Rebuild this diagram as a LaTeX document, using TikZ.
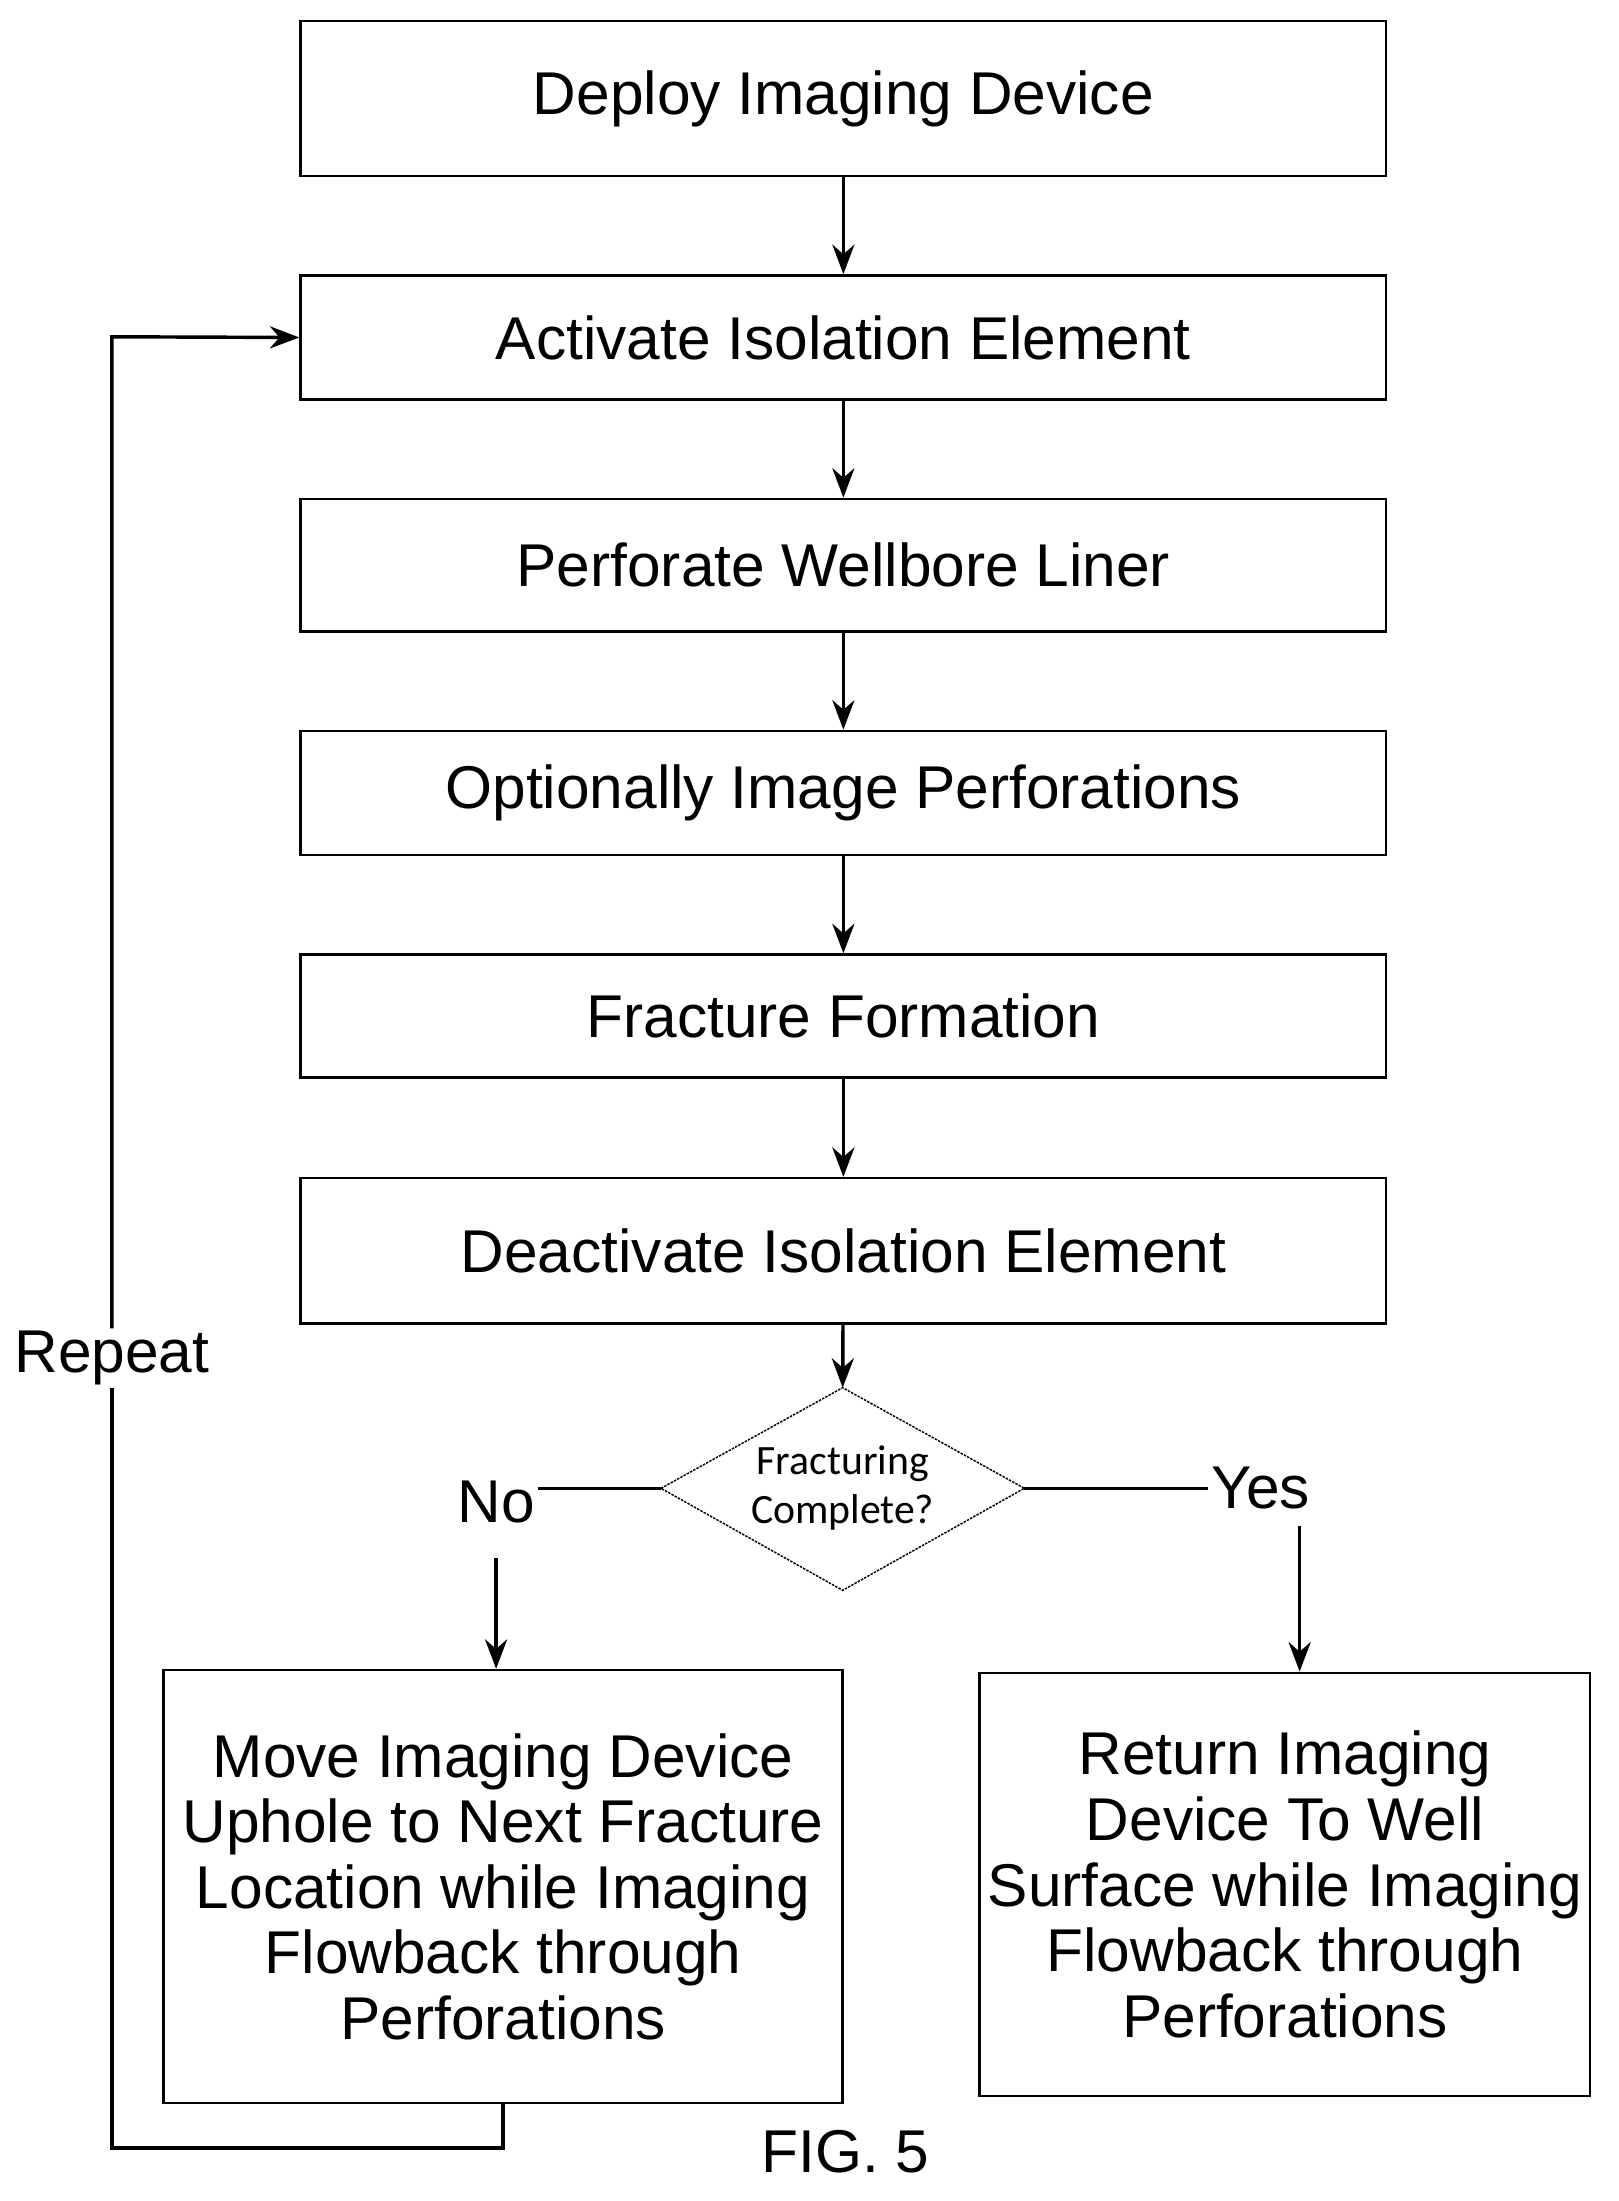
\documentclass[tikz,border=0pt]{standalone}
\usepackage{fontspec}
\setmainfont{Liberation Sans}
\newfontfamily\carlitofont{Carlito}
\usetikzlibrary{arrows.meta}
\begin{document}
\begin{tikzpicture}[x=0.02cm,y=-0.02cm,
  box/.style={draw,line width=1pt,inner sep=0pt,font=\fontsize{24.6}{26.7}\selectfont,align=center},
  arr/.style={line width=1.4pt,-{Stealth[length=12pt,width=9pt]}},
  ln/.style={line width=1.4pt},
  lab/.style={font=\fontsize{24.6}{28}\selectfont,inner sep=1pt}]
\useasboundingbox (0,0) rectangle (1158,1575);
\node[box,minimum width=15.54cm,minimum height=2.22cm] (b1) at (603.5,70.5) {Deploy Imaging Device};
\node[box,minimum width=15.54cm,minimum height=1.78cm] (b2) at (603.5,241.5) {Activate Isolation Element};
\node[box,minimum width=15.54cm,minimum height=1.9cm] (b3) at (603.5,404.5) {Perforate Wellbore Liner};
\node[box,minimum width=15.54cm,minimum height=1.78cm] (b4) at (603.5,567.5) {Optionally Image Perforations};
\node[box,minimum width=15.54cm,minimum height=1.76cm] (b5) at (603.5,727) {Fracture Formation};
\node[box,minimum width=15.54cm,minimum height=2.08cm] (b6) at (603.5,895) {Deactivate Isolation Element};
\draw[line width=0.6pt,dash pattern=on 1pt off 0.5pt] (473,1065) coordinate (dl) -- (603,993) coordinate (dt) -- (733,1065) coordinate (dr) -- (603,1138) -- cycle;
\node[font=\carlitofont\fontsize{17}{20}\selectfont,align=center] (d) at (603,1065) {Fracturing\\Complete?};
\node[box,minimum width=9.72cm,minimum height=6.2cm] (L) at (360,1350) {Move Imaging Device\\Uphole to Next Fracture\\Location while Imaging\\Flowback through\\Perforations};
\node[box,minimum width=8.74cm,minimum height=6.06cm] (R) at (919.5,1348.5) {Return Imaging\\Device To Well\\Surface while Imaging\\Flowback through\\Perforations};
\draw[arr] (b1) -- (b2);
\draw[arr] (b2) -- (b3);
\draw[arr] (b3) -- (b4);
\draw[arr] (b4) -- (b5);
\draw[arr] (b5) -- (b6);
\draw[arr] (b6) -- (dt);
\node[lab] (no) at (355,1075) {No};
\node[lab] (yes) at (902,1065) {Yes};
\draw[ln] (dl) -- (no.east |- dl);
\draw[ln] (dr) -- (yes.west |- dr);
\draw[arr] (355,1115) coordinate (ns) -- (ns |- L.north);
\draw[arr] (930,1092) coordinate (ys) -- (ys |- R.north);
\node[lab] (rep) at (80,972) {Repeat};
\coordinate (c1) at (360,1537);
\coordinate (c2) at (80,1537);
\coordinate (c3) at (80,241);
\draw[ln] (L.south) -- (c1) -- (c2) -- (rep.south);
\draw[arr] (rep.north) -- (c3) -- (b2.west);
\node[lab] (fig) at (605,1540) {FIG. 5};
\end{tikzpicture}
\end{document}
